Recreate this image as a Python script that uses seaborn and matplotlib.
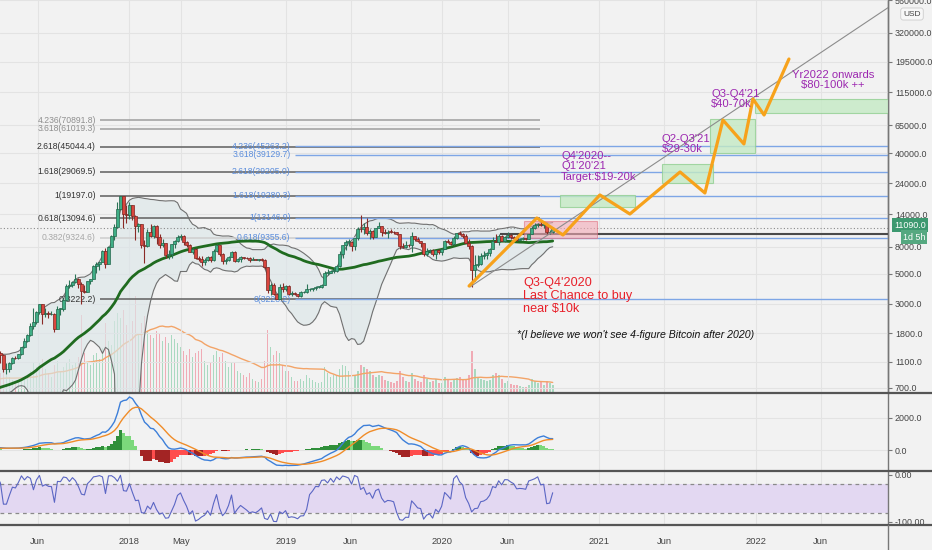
import numpy as np
import pandas as pd
import matplotlib
matplotlib.use("Agg")
import matplotlib.pyplot as plt
import matplotlib.dates as mdates
import matplotlib.transforms as mtransforms
from matplotlib import font_manager
from matplotlib.patches import Rectangle
from matplotlib.lines import Line2D
import seaborn as sns

# weekly closes (BTC/USD), weeks starting 2016-03-07 .. 2020-09-14
closes_2016 = [412, 410, 416, 420, 422, 430, 450, 455, 460, 457, 442, 530, 580, 665, 763,
               660, 705, 650, 665, 655, 625, 588, 570, 580, 575, 608, 608, 610, 600, 612,
               618, 640, 655, 700, 705, 705, 740, 735, 765, 775, 790, 895, 1000]
closes_2017 = [905, 830, 920, 915, 1015, 1000, 1050, 1180, 1270, 1230, 970, 970, 1080, 1180,
               1170, 1250, 1420, 1570, 1760, 2050, 2200, 2600, 2960, 2500, 2570, 2500, 2520,
               1930, 2750, 2750, 3200, 4050, 4100, 4330, 4600, 4200, 3700, 3650, 4400, 4600,
               5700, 5980, 6150, 7400, 5950, 8000, 9700, 11300, 15300, 19100, 14000, 13850]
closes_2018 = [16400, 13700, 11500, 11800, 8200, 8100, 10400, 9600, 11500, 9500, 8200, 8500,
               6900, 7000, 8350, 8900, 9400, 9650, 8700, 8250, 7350, 7700, 6550, 6450, 6200,
               6350, 6750, 6350, 7400, 8200, 7000, 6300, 6400, 6700, 7300, 6250, 6500, 6700,
               6600, 6550, 6400, 6450, 6400, 6450, 6350, 5600, 3800, 4150, 3550, 3250, 4000,
               3850, 4050]
closes_2019 = [3550, 3600, 3550, 3450, 3650, 3650, 3850, 3850, 3900, 4000, 4000, 4150, 5100,
               5100, 5300, 5300, 5750, 7000, 8200, 8750, 8750, 8050, 9300, 10900, 10800, 11300,
               10200, 10550, 9500, 11000, 11400, 10300, 10150, 10400, 10350, 10300, 10000, 8050,
               7950, 8300, 8200, 9550, 9200, 8800, 8500, 7050, 7400, 7500, 7100, 7500, 7250, 7750]
closes_2020 = [8900, 8650, 8350, 9350, 10150, 9900, 9650, 8550, 8050, 5400, 5850, 5900, 6800,
               6900, 7150, 7700, 8900, 8750, 9700, 8900, 9450, 9750, 9450, 9300, 9000, 9100,
               9250, 9200, 9950, 11050, 11700, 11900, 11650, 11700, 10250, 10300, 11090]

# weekly highs / lows / volume, weeks starting 2016-11-21 .. 2020-09-14
highs_2016 = [755, 775, 780, 795, 930, 1000]
highs_2017 = [1150, 910, 930, 930, 1030, 1070, 1060, 1210, 1290, 1330, 1260, 1080, 1100, 1200,
              1210, 1260, 1430, 1650, 1790, 2140, 2800, 2620, 2980, 3000, 2770, 2620, 2650,
              2550, 2900, 2800, 3280, 4200, 4480, 4400, 4980, 4700, 4380, 4100, 4450, 4620,
              5860, 6100, 6200, 7600, 7880, 8100, 9800, 11800, 17200, 19197, 19000, 16500]
highs_2018 = [17200, 16300, 13800, 12000, 11900, 9000, 10900, 11800, 11700, 11700, 9900, 9100,
              8600, 7550, 8450, 9050, 9750, 9950, 9850, 8900, 8400, 7800, 7800, 6850, 6850,
              6550, 6850, 6800, 7700, 8450, 8200, 7150, 6600, 6800, 7400, 7400, 6600, 6800,
              6750, 6650, 6650, 6650, 6500, 6500, 6550, 6450, 5600, 4300, 4250, 3600, 4200,
              4250, 4100]
highs_2019 = [4100, 3700, 3650, 3560, 3700, 3720, 4180, 3900, 3950, 4050, 4080, 4200, 5300,
              5450, 5400, 5650, 5850, 7400, 8300, 8950, 9100, 8800, 9350, 11200, 13880, 12000,
              13200, 10900, 10600, 11100, 12300, 11500, 10950, 10600, 10900, 10450, 10350,
              10050, 8500, 8800, 8400, 10350, 9600, 9450, 8850, 8450, 7850, 7750, 7650, 7550,
              7700, 7800]
highs_2020 = [8950, 9200, 8800, 9550, 10200, 10500, 10200, 9950, 9200, 8200, 6900, 6950, 7200,
              7450, 7300, 7800, 9450, 10050, 9900, 9850, 9600, 10400, 10000, 9600, 9800, 9300,
              9450, 9300, 10000, 11450, 12000, 12050, 12450, 11800, 12100, 10600, 11150]

lows_2016 = [728, 730, 755, 770, 788, 890]
lows_2017 = [780, 750, 820, 880, 910, 940, 990, 1040, 1150, 1080, 930, 890, 930, 1060, 1160,
             1160, 1240, 1400, 1550, 1720, 1950, 2100, 2500, 2100, 2400, 2350, 2450, 1840,
             1920, 2480, 2620, 3150, 3900, 3970, 4300, 3950, 2980, 3600, 3640, 4200, 4560,
             5100, 5400, 6100, 5500, 5900, 7950, 9000, 11000, 15000, 11000, 12000]
lows_2018 = [12800, 12700, 9000, 10300, 7800, 6000, 8000, 9400, 9350, 8400, 7800, 7900, 6600,
             6450, 6600, 7850, 8700, 9050, 8300, 7950, 7250, 7050, 6500, 6250, 5750, 5800,
             6250, 6100, 6300, 7350, 6850, 5900, 5900, 6300, 6650, 6200, 6150, 6150, 6450,
             6450, 6100, 6350, 6350, 6300, 6300, 5450, 3600, 3500, 3500, 3222, 3250, 3650, 3700]
lows_2019 = [3500, 3450, 3480, 3380, 3380, 3580, 3630, 3700, 3700, 3820, 3930, 3900, 4100,
             4950, 5050, 5050, 5200, 5600, 6600, 7500, 8050, 7450, 7600, 9000, 10400, 10000,
             9800, 9100, 9200, 9400, 11000, 9600, 9900, 9350, 10150, 10000, 9800, 7750, 7800,
             7850, 7900, 7300, 8900, 8700, 8000, 6800, 6850, 7200, 6850, 6450, 7100, 6900]
lows_2020 = [7700, 8500, 8250, 8300, 9150, 9750, 9300, 8500, 7650, 4000, 4450, 5650, 5850,
             6500, 6450, 6850, 7650, 8650, 8200, 8800, 8650, 9250, 9100, 9200, 8850, 8950,
             9050, 9050, 9150, 9900, 10950, 11200, 11500, 11100, 9900, 9900, 10200]

vol_2016 = [10, 12, 11, 12, 16, 18]
vol_2017 = [22, 20, 13, 11, 12, 12, 10, 14, 15, 20, 22, 18, 16, 13, 11, 12, 14, 16, 18, 22, 30,
            26, 30, 34, 24, 20, 16, 28, 32, 22, 26, 30, 34, 28, 30, 36, 78, 40, 30, 28, 38, 40,
            34, 45, 70, 52, 48, 72, 80, 75, 83, 68]
vol_2018 = [66, 72, 97, 60, 70, 77, 62, 58, 55, 62, 60, 52, 56, 50, 58, 54, 50, 46, 42, 38, 44,
            36, 40, 42, 44, 32, 28, 30, 38, 42, 36, 40, 32, 26, 30, 30, 22, 20, 18, 16, 20, 14,
            12, 11, 14, 32, 63, 46, 38, 42, 40, 28, 22]
vol_2019 = [22, 16, 12, 12, 14, 12, 18, 15, 13, 11, 10, 11, 26, 20, 16, 18, 17, 24, 28, 27, 22,
            20, 18, 22, 28, 26, 24, 22, 18, 16, 18, 17, 13, 12, 11, 10, 12, 22, 16, 12, 11, 20,
            14, 12, 11, 18, 14, 11, 12, 14, 10, 10]
vol_2020 = [16, 14, 11, 13, 15, 16, 13, 14, 18, 42, 24, 16, 14, 13, 12, 13, 18, 20, 18, 14, 10,
            12, 9, 8, 8, 7, 6, 6, 8, 14, 12, 10, 11, 8, 12, 10, 8]

last_week = "2020-09-14"
last_price = 11090.0

# fibonacci drawings
fib_left_levels = ["0", "0.382", "0.618", "1", "1.618", "2.618", "3.618", "4.236"]
fib_left_prices = [3222.2, 9324.6, 13094.6, 19197.0, 29069.5, 45044.4, 61019.3, 70891.8]
fib_left_span = ["2017-10-24", "2020-08-15"]
fib_right_levels = ["0", "0.618", "1", "1.618", "2.618", "3.618", "4.236"]
fib_right_prices = [3228.2, 9355.6, 13146.9, 19280.3, 29205.0, 39129.7, 45263.2]
fib_right_span = ["2019-01-21", "2023-06-01"]

# projected path and trend line
path_dates = ["2020-03-03", "2020-08-08", "2020-10-08", "2021-01-02", "2021-03-13", "2021-07-08",
              "2021-09-04", "2021-10-16", "2021-12-04", "2021-12-25", "2022-01-20", "2022-03-19"]
path_prices = [4065, 13130, 9800, 19540, 14070, 29040, 20220, 71150, 47100, 102300, 77600, 203800]
trend_dates = ["2020-03-05", "2022-11-05"]
trend_prices = [3996, 494000]

# target zones: start, end, low, high
zone_starts = ["2020-10-01", "2021-05-27", "2021-09-16", "2021-12-30"]
zone_ends = ["2021-03-25", "2021-09-23", "2021-12-30", "2023-01-01"]
zone_lows = [15880, 24030, 40300, 80300]
zone_highs = [19540, 33340, 72440, 102300]
buy_zone = ["2020-07-09", "2020-12-26", 9360, 12470]
support_price = 10000
support_start = "2020-05-14"

price_ticks = [700, 1100, 1800, 3000, 5000, 8000, 14000, 24000, 40000, 65000, 115000, 195000,
               320000, 560000]
date_ticks = ["2017-06-01", "2018-01-01", "2018-05-01", "2019-01-01", "2019-06-01", "2020-01-01",
              "2020-06-01", "2021-01-01", "2021-06-01", "2022-01-01", "2022-06-01"]
date_tick_labels = ["Jun", "2018", "May", "2019", "Jun", "2020", "Jun", "2021", "Jun", "2022", "Jun"]

# ---- data frames / indicators
closes = closes_2016 + closes_2017 + closes_2018 + closes_2019 + closes_2020
df = pd.DataFrame({"date": pd.date_range(end=last_week, periods=len(closes), freq="W-MON"),
                   "close": np.array(closes, dtype=float)})
df["open"] = df["close"].shift(1)
df["ma50"] = df["close"].rolling(50).mean()
df["bb_mid"] = df["close"].rolling(20).mean()
bb_std = df["close"].rolling(20).std(ddof=0)
df["bb_up"] = df["bb_mid"] + 2 * bb_std
df["bb_lo"] = (df["bb_mid"] - 2 * bb_std).clip(lower=100)
ema12 = df["close"].ewm(span=12, adjust=False).mean()
ema26 = df["close"].ewm(span=26, adjust=False).mean()
df["macd"] = ema12 - ema26
df["signal"] = df["macd"].ewm(span=9, adjust=False).mean()
df["hist"] = df["macd"] - df["signal"]

highs = highs_2016 + highs_2017 + highs_2018 + highs_2019 + highs_2020
lows = lows_2016 + lows_2017 + lows_2018 + lows_2019 + lows_2020
vols = vol_2016 + vol_2017 + vol_2018 + vol_2019 + vol_2020
d = df.iloc[-len(highs):].copy()
d["high"] = highs
d["low"] = lows
d["vol"] = vols
d["vol_ma"] = d["vol"].rolling(20, min_periods=8).mean()
hh = d["high"].rolling(14).max()
ll = d["low"].rolling(14).min()
d["wr"] = -100 * (hh - d["close"]) / (hh - ll)

# ---- style
sns.set_theme(style="white")
bg = "#f2f2f2"
installed = {f.name for f in font_manager.fontManager.ttflist}
if "Liberation Sans Narrow" in installed:
    base_font, k = "Liberation Sans Narrow", 1.0
else:
    base_font, k = "Liberation Sans", 0.84
plt.rcParams["font.family"] = [base_font, "DejaVu Sans"]
plt.rcParams["axes.facecolor"] = bg
plt.rcParams["figure.facecolor"] = bg

W, H = 932, 550
fig = plt.figure(figsize=(W / 100, H / 100), dpi=100)


def rect(x0, y0, x1, y1):
    return [x0 / W, 1 - y1 / H, (x1 - x0) / W, (y1 - y0) / H]


ax_v = fig.add_axes(rect(0, 0, 888, 393))
ax = fig.add_axes(rect(0, 0, 888, 393), sharex=ax_v)
ax_m = fig.add_axes(rect(0, 393, 888, 471), sharex=ax_v)
ax_r = fig.add_axes(rect(0, 471, 888, 525), sharex=ax_v)
ax.patch.set_visible(False)

to_num = lambda s: mdates.date2num(pd.to_datetime(s))
xnum = mdates.date2num(d["date"])
up = (d["close"] >= d["open"]).values

# volume
ax_v.bar(xnum, d["vol"], width=4.2, color=np.where(up, "#a9d9c0", "#f0abb5"), lw=0, zorder=1)
sns.lineplot(x=d["date"], y=d["vol_ma"], ax=ax_v, color="#f3a468", lw=1, legend=False)
ax_v.set_ylim(0, 393)
ax_v.set_yticks([])

# price panel
ax.set_yscale("log")
ax.fill_between(mdates.date2num(df["date"]), df["bb_lo"], df["bb_up"], color="#dce6e8",
                alpha=0.65, lw=0, zorder=1)
for col in ["bb_up", "bb_lo"]:
    sns.lineplot(x=df["date"], y=df[col], ax=ax, color="#707070", lw=0.8, legend=False, zorder=2)
sns.lineplot(x=df["date"], y=df["ma50"], ax=ax, color="#1f6b1f", lw=2, legend=False, zorder=4)

shift = mtransforms.offset_copy(ax.transData, fig=fig, x=-4, y=0, units="dots")
for lvl, p in zip(fib_left_levels, fib_left_prices):
    if lvl in ("3.618", "4.236"):
        lc, tc = "#a5a5a5", "#8f8f8f"
    elif lvl == "0.382":
        lc, tc = "#d0d0d0", "#a8a8a8"
    else:
        lc, tc = "#6a6a6a", "#333333"
    ax.hlines(p, to_num(fib_left_span[0]), to_num(fib_left_span[1]), color=lc, lw=1.2, zorder=2)
    ax.text(to_num(fib_left_span[0]), p, f"{lvl}({p:.1f})", transform=shift, ha="right",
            va="center", fontsize=7.4 * k, color=tc, zorder=3)
for lvl, p in zip(fib_right_levels, fib_right_prices):
    ax.hlines(p, to_num(fib_right_span[0]), to_num(fib_right_span[1]), color="#7ea6e6", lw=1, zorder=2)
    ax.text(to_num(fib_right_span[0]), p, f"{lvl}({p:.1f})", transform=shift, ha="right",
            va="center", fontsize=7.4 * k, color="#5b8ddc", zorder=3)

ax.axhline(last_price, color="#8a8a8a", lw=0.8, ls=(0, (1, 2)), zorder=2)
ax.hlines(support_price, to_num(support_start), to_num("2023-06-01"), color="#4a4a4a", lw=1.5, zorder=3)

for s, e, lo, hi in zip(zone_starts, zone_ends, zone_lows, zone_highs):
    ax.add_patch(Rectangle((to_num(s), lo), to_num(e) - to_num(s), hi - lo, fc="#c4eac4",
                           ec="#92cf92", lw=0.8, alpha=0.8, zorder=3))
ax.add_patch(Rectangle((to_num(buy_zone[0]), buy_zone[2]), to_num(buy_zone[1]) - to_num(buy_zone[0]),
                       buy_zone[3] - buy_zone[2], fc="#f3aab6", ec="#e07080", lw=0.8, alpha=0.6, zorder=3))

# candles
body_lo = np.minimum(d["open"], d["close"]).values
body_hi = np.maximum(np.maximum(d["open"], d["close"]).values, body_lo * 1.008)
ax.vlines(xnum, d["low"], d["high"], colors=np.where(up, "#2c7558", "#8a2a26"), lw=0.8, zorder=5)
ax.bar(xnum, body_hi - body_lo, bottom=body_lo, width=5.8,
       color=np.where(up, "#3fae86", "#d9463e"), edgecolor=np.where(up, "#23664b", "#7a2420"),
       lw=0.5, zorder=5)

sns.lineplot(x=pd.to_datetime(trend_dates), y=trend_prices, ax=ax, color="#8c8c8c", lw=0.8,
             legend=False, zorder=5)
sns.lineplot(x=pd.to_datetime(path_dates), y=path_prices, ax=ax, color="#f7a21b", lw=2.3,
             sort=False, legend=False, zorder=6)

ax.set_ylim(642, 564000)
ax.set_yticks(price_ticks)
ax.set_yticklabels([f"{v:.1f}" for v in price_ticks])
ax.yaxis.set_minor_locator(matplotlib.ticker.NullLocator())
ax.yaxis.tick_right()
ax.grid(True, axis="both", color="#e3e3e3", lw=0.8)
ax.set_axisbelow(True)


def axfrac(px, py):
    return px / 888, 1 - py / 393


purple = "#9c27b0"
ax.text(*axfrac(561, 151), "Q4'2020--\nQ1'20'21\nTarget:$19-20k", transform=ax.transAxes,
        color=purple, fontsize=9.6 * k, va="top", ha="left", linespacing=1.05, zorder=7)
ax.text(*axfrac(662, 134), "Q2-Q3'21\n$29-30k", transform=ax.transAxes,
        color=purple, fontsize=9.6 * k, va="top", ha="left", linespacing=1.05, zorder=7)
ax.text(*axfrac(711, 89), "Q3-Q4'21\n$40-70k", transform=ax.transAxes,
        color=purple, fontsize=9.6 * k, va="top", ha="left", linespacing=1.05, zorder=7)
ax.text(*axfrac(833, 70), "Yr2022 onwards\n$80-100k ++", transform=ax.transAxes,
        color=purple, fontsize=9.6 * k, va="top", ha="center", multialignment="center",
        linespacing=1.05, zorder=7)
ax.text(*axfrac(523, 277), "Q3-Q4'2020\nLast Chance to buy\nnear $10k", transform=ax.transAxes,
        color="#e8202a", fontsize=10.8 * k, va="top", ha="left", linespacing=1.1, zorder=7)
ax.text(*axfrac(517, 335), "*(I believe we won't see 4-figure Bitcoin after 2020)",
        transform=ax.transAxes, color="#111111", fontsize=9 * k, style="italic", va="center",
        ha="left", zorder=7)

# MACD panel
hist = df["hist"]
prev = hist.shift(1)
hcol = np.where(hist >= 0, np.where(hist >= prev, "#2f8f3a", "#7bd87b"),
                np.where(hist < prev, "#a32424", "#ff4d4d"))
ax_m.bar(mdates.date2num(df["date"]), hist, width=7, color=hcol, lw=0, zorder=2)
sns.lineplot(x=df["date"], y=df["macd"], ax=ax_m, color="#3d7fd9", lw=1, legend=False, zorder=3)
sns.lineplot(x=df["date"], y=df["signal"], ax=ax_m, color="#f08c28", lw=1, legend=False, zorder=3)
ax_m.set_ylim(-1312, 3562)
ax_m.set_yticks([0, 2000])
ax_m.set_yticklabels(["0.0", "2000.0"])
ax_m.yaxis.tick_right()
ax_m.grid(True, color="#e3e3e3", lw=0.8)
ax_m.set_axisbelow(True)

# Williams %R panel
ax_r.axhspan(-80, -20, color="#e3d8f2", lw=0, zorder=1)
ax_r.axhline(-20, color="#8a8a8a", lw=0.9, ls=(0, (3, 3)), zorder=2)
ax_r.axhline(-80, color="#8a8a8a", lw=0.9, ls=(0, (3, 3)), zorder=2)
sns.lineplot(x=d["date"], y=d["wr"], ax=ax_r, color="#5b66c4", lw=0.8, legend=False, zorder=3)
ax_r.set_ylim(-106.4, 8.5)
ax_r.set_yticks([0, -100])
ax_r.set_yticklabels(["0.00", "-100.00"])
ax_r.yaxis.tick_right()
ax_r.grid(True, axis="x", color="#e3e3e3", lw=0.8)
ax_r.set_axisbelow(True)

# shared x axis
ax_v.set_xlim(to_num("2017-03-05"), to_num("2022-11-05"))
ax_r.set_xticks(to_num(date_ticks))
ax_r.set_xticklabels(date_tick_labels)

for a in (ax_v, ax, ax_m, ax_r):
    a.set_xlabel("")
    a.set_ylabel("")
    for side in ("left", "top", "bottom"):
        a.spines[side].set_visible(False)
    a.spines["right"].set_color("#777777")
    a.spines["right"].set_linewidth(1)
    a.tick_params(axis="y", labelsize=7.6 * k, labelcolor="#444444", color="#777777", length=3,
                  width=0.8, pad=2, left=False, right=True)
for a in (ax_v, ax, ax_m):
    a.tick_params(axis="x", labelbottom=False, bottom=False)
ax_r.tick_params(axis="x", labelsize=8 * k, labelcolor="#444444", length=0, pad=9)

# panel separators run across the price scale too
for ypx in (393, 471, 525):
    fig.add_artist(Line2D([0, 1], [1 - ypx / H] * 2, color="#555555", lw=1.6))
fig.add_artist(Line2D([888 / W, 888 / W], [0, 25 / H], color="#777777", lw=1))

# right-side labels
fig.text(912 / W, 1 - 14 / H, "USD", fontsize=7.2 * k, color="#444444", ha="center", va="center",
         bbox=dict(boxstyle="round,pad=0.3", fc="#f7f7f7", ec="#cccccc", lw=0.6))
fig.text(910 / W, 1 - 225 / H, f"{last_price:.1f}", fontsize=7.6 * k, color="white", ha="center",
         va="center", bbox=dict(boxstyle="square,pad=0.25", fc="#3d9970", ec="none"))
fig.text(914 / W, 1 - 237 / H, "1d 5h", fontsize=7.6 * k, color="white", ha="center", va="center",
         bbox=dict(boxstyle="square,pad=0.25", fc="#55a880", ec="none"))

fig.savefig("out.png", dpi=100, facecolor=bg)
